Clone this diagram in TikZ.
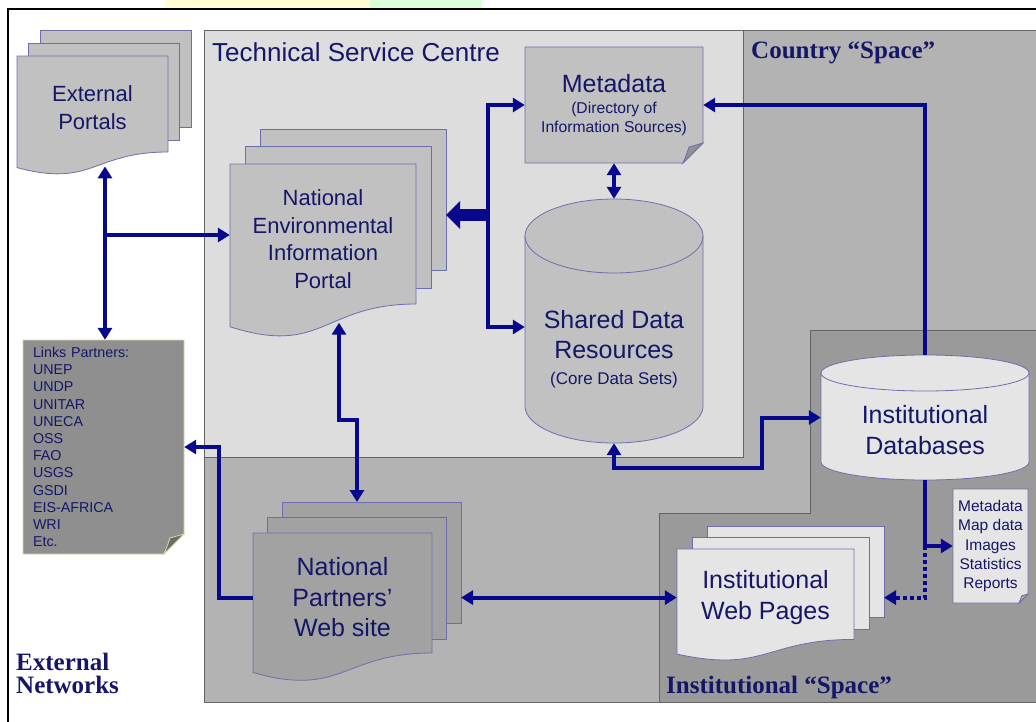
\documentclass[tikz,border=0pt]{standalone}
\usepackage{fontspec}
\setmainfont{Liberation Sans}
\newfontfamily\titleserif{Liberation Serif}
\usetikzlibrary{arrows.meta,calc}

\definecolor{ink}{RGB}{22,22,105}
\definecolor{flow}{RGB}{8,8,140}
\definecolor{edge}{RGB}{100,100,100}
\definecolor{sheetline}{RGB}{110,110,175}
\definecolor{linkedge}{RGB}{215,215,160}
\definecolor{countrygray}{RGB}{179,179,179}
\definecolor{tscgray}{RGB}{221,221,221}
\definecolor{instgray}{RGB}{154,154,154}
\definecolor{docgray}{RGB}{193,193,193}
\definecolor{partnergray}{RGB}{162,162,162}
\definecolor{linkgray}{RGB}{143,143,143}
\definecolor{palegray}{RGB}{229,229,229}

\newcommand\docstack[8][]{%
  \begin{scope}[shift={(#3)}]
    \draw[sheet, fill=#7] ($2*(#6)$) rectangle ++(#4,0.81*#5);
    \draw[sheet, fill=#7] (#6) rectangle ++(#4,0.81*#5);
    \coordinate (#2-rear) at ($2*(#6)+(#4,0)$);
    \draw[sheet, fill=#7] (0,0) -- (#4,0) -- (#4,0.8*#5)
      .. controls (0.5*#4,0.8*#5) and (0.5*#4,1.1*#5) .. (0,0.93*#5) -- cycle;
    \node[doctext, minimum width=#4, minimum height=0.86*#5, #1] (#2) at (0.5*#4,0.43*#5) {#8};
  \end{scope}}

\newcommand\database[8][]{%
  \begin{scope}[shift={(#3)}]
    \draw[sheet, fill=#7] (0,#6) -- (0,#5-#6)
      arc[start angle=180, end angle=0, x radius=0.5*#4, y radius=#6]
      -- (#4,#6) arc[start angle=0, end angle=-180, x radius=0.5*#4, y radius=#6] -- cycle;
    \draw[sheet] (0,#6) arc[start angle=180, end angle=0, x radius=0.5*#4, y radius=#6];
    \node[minimum width=#4, minimum height=#5, inner sep=0pt] (#2) at (0.5*#4,0.5*#5) {};
    \node[doctext, bigtext, #1] (#2-text) at (#2.center) {#8};
  \end{scope}}

\newcommand\notedoc[8][]{%
  \begin{scope}[shift={(#3)}]
    \draw[sheet, fill=#7] (0,0) -- (#4,0) -- (#4,#5-#6) -- (#4-#6,#5) -- (0,#5) -- cycle;
    \draw[sheet, fill=#7!75!black] (#4-#6,#5) .. controls (#4-0.8*#6,#5-0.5*#6) .. (#4-0.7*#6,#5-0.8*#6)
      .. controls (#4-0.4*#6,#5-0.9*#6) .. (#4,#5-#6) -- cycle;
    \node[doctext, minimum width=#4, minimum height=#5, #1] (#2) at (0.5*#4,0.5*#5) {#8};
  \end{scope}}

\begin{document}
\begin{tikzpicture}[x=1pt, y=-1pt,
    >={Triangle[length=12pt, width=14pt]},
    region/.style={draw=edge, line width=0.9pt},
    sheet/.style={draw=sheetline, line width=0.8pt},
    doctext/.style={text=ink, align=center, inner sep=0pt,
                    font=\fontsize{22}{27.5}\selectfont},
    bigtext/.style={font=\fontsize{25}{30.5}\selectfont},
    smalltext/.style={font=\fontsize{15.7}{18.5}\selectfont},
    heading/.style={text=ink, inner sep=0pt, anchor=base west},
    spacename/.style={heading, font=\titleserif\bfseries\fontsize{25}{23}\selectfont},
    line/.style={->, draw=flow, line width=4pt},
    both/.style={<->, draw=flow, line width=4pt},
    dotline/.style={line, dash pattern=on 4pt off 3pt},
    bigline/.style={-{Triangle[length=14pt, width=27pt]}, draw=flow, line width=12pt}
]
  \useasboundingbox (0,0) rectangle (1036,721);
  \fill[yellow!18] (165,0) rectangle (370,8);
  \fill[green!14] (370,0) rectangle (482,8);
  \draw[line width=2pt] (8,730) -- (8,9) -- (1045,9);

  \draw[region, fill=countrygray] (204,30) rectangle (1045,702);
  \draw[region, fill=tscgray] (204,30) rectangle (743,457);
  \draw[region, fill=instgray] (1045,330) -- (810,330) -- (810,513) -- (659,513)
    -- (659,702) -- (1045,702);

  \node[heading, font=\fontsize{26}{28}\selectfont] (tsc) at (212,61) {Technical Service Centre};
  \node[spacename] (country) at (751,58) {Country “Space”};
  \node[spacename] (institution) at (666,693) {Institutional “Space”};
  \node[spacename, anchor=west, align=left] (external) at (16,673) {External\\Networks};

  \docstack{ep}{17,56}{151}{120}{11.5,-13}{docgray}{External\\Portals}
  \docstack{neip}{230,164}{186}{175}{15,-17.5}{docgray}{National\\Environmental\\Information\\Portal}
  \docstack[bigtext]{partners}{253,533}{179}{150}{14.5,-15.5}{partnergray}{National\\Partners’\\Web site}
  \docstack[bigtext]{iwp}{677,549}{177}{113}{15,-11.5}{palegray}{Institutional\\Web Pages}

  \database[yshift=-28pt]{shared}{525,199}{178}{244}{37}{docgray}{Shared Data\\Resources\\[-5pt]{\fontsize{17}{20}\selectfont(Core Data Sets)}}
  \database[yshift=-12.5pt]{instdb}{821,355}{208}{125}{18}{palegray}{Institutional\\Databases}

  \notedoc[smalltext]{meta}{525,47}{178}{116}{20}{docgray}{{\fontsize{25}{28}\selectfont Metadata}\\[3pt](Directory of\\Information Sources)}
  \notedoc[font=\fontsize{15.5}{19.3}\selectfont]{list}{953,489}{75}{114}{9}{palegray}{Metadata\\Map data\\Images\\Statistics\\Reports}
  \begin{scope}[sheet/.style={draw=linkedge, line width=0.8pt}]
    \notedoc[align=left, text width=141pt, inner xsep=10pt, font=\fontsize{14.3}{17.2}\selectfont]{links}{23,340}{161}{214}{20}{linkgray}{Links Partners:\\UNEP\\UNDP\\UNITAR\\UNECA\\OSS\\FAO\\USGS\\GSDI\\EIS-AFRICA\\WRI\\Etc.}
  \end{scope}

  \coordinate (epbus) at (105,235);
  \coordinate (tscbus) at (488,215);
  \coordinate (dbjog) at (762,468);
  \coordinate (pjog1) at (339,420);
  \coordinate (pjog2) at (357,420);
  \coordinate (linkjog) at (219,447);

  \draw[both] ([yshift=-7pt]ep.south -| epbus) -- (links.north -| epbus);
  \draw[line] (epbus) -- (epbus -| neip.west);
  \draw[line] (tscbus) -- (tscbus |- meta.west) -- (meta.west);
  \draw[line] (tscbus) -- ([yshift=-6pt]tscbus |- shared.west) -- ([yshift=-6pt]shared.west);
  \draw[bigline] (tscbus) -- (tscbus -| neip-rear);
  \draw[both] (meta.south) -- (shared.north);
  \draw[line] (instdb.north) |- (meta.east);
  \draw[both] (shared.south) |- (dbjog) |- (instdb.west);
  \draw[both] ([yshift=-8pt]neip.south -| pjog1) -- (pjog1) -- (pjog2) -- (pjog2 |- partners-rear);
  \draw[line] (partners.west) -| (linkjog) -- (links.east);
  \draw[both] (partners-rear |- iwp.west) -- (iwp.west);
  \draw[line] (instdb.south) |- (list.west);
  \draw[dotline] (instdb.south |- list.west) |- (iwp-rear |- iwp.west);
\end{tikzpicture}
\end{document}
